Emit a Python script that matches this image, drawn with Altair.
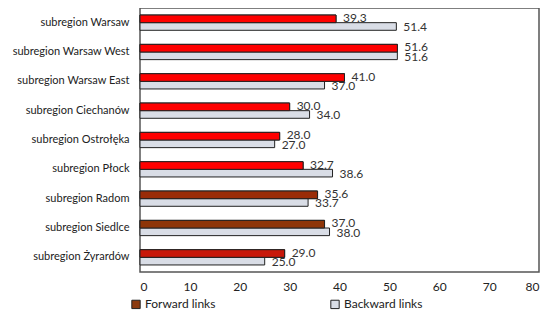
import altair as alt
import pandas as pd

categories = ["subregion Warsaw", "subregion Warsaw West", "subregion Warsaw East",
              "subregion Ciechanów", "subregion Ostrołęka", "subregion Płock",
              "subregion Radom", "subregion Siedlce", "subregion Żyrardów"]
forward = [39.3, 51.6, 41.0, 30.0, 28.0, 32.7, 35.6, 37.0, 29.0]
backward = [51.4, 51.6, 37.0, 34.0, 27.0, 38.6, 33.7, 38.0, 25.0]
forward_fill = ["#ff0000", "#ff0000", "#ff0000", "#ff0000", "#ff0000", "#ff0000",
                "#9a2c08", "#8e3508", "#c8180a"]
backward_fill = "#d9dde6"
series = ["Forward links", "Backward links"]

rows = []
for c, f, b, ff in zip(categories, forward, backward, forward_fill):
    rows.append({"cat": c, "series": series[0], "value": f, "fill": ff, "label": f"{f:.1f}"})
    rows.append({"cat": c, "series": series[1], "value": b, "fill": backward_fill, "label": f"{b:.1f}"})
df = pd.DataFrame(rows)

FONT = "Lato"
yenc = alt.Y("cat:N", sort=categories, title=None,
             scale=alt.Scale(paddingInner=0.48, paddingOuter=0.24),
             axis=alt.Axis(ticks=False, domain=False, labelPadding=11, labelFontSize=11,
                           labelFont=FONT, labelColor="#222", labelLimit=300))
yoff = alt.YOffset("series:N", sort=series, scale=alt.Scale(paddingInner=0, paddingOuter=0))
xenc = alt.X("value:Q", title=None,
             scale=alt.Scale(domain=[0, 80], nice=False),
             axis=alt.Axis(values=list(range(0, 81, 10)), ticks=False, domain=False, grid=False,
                           labelPadding=9, labelFontSize=12, labelFont=FONT, labelColor="#222"))

bars = alt.Chart(df).mark_bar(stroke="#222", strokeWidth=1).encode(
    x=xenc, y=yenc, yOffset=yoff,
    color=alt.Color("series:N", sort=series,
                    scale=alt.Scale(domain=series, range=["#8b3a0f", backward_fill]),
                    legend=alt.Legend(title=None, orient="none", legendX=-10, legendY=290,
                                      direction="horizontal", symbolType="square",
                                      symbolSize=70, symbolStrokeColor="#222", symbolStrokeWidth=1,
                                      symbolOpacity=1,
                                      labelFont=FONT, labelFontSize=12, labelColor="#222",
                                      columnPadding=112, symbolOffset=0, labelOffset=3)),
)

bars_f = alt.Chart(df).transform_filter(alt.datum.series == series[0]).mark_bar(
    stroke="#222", strokeWidth=1
).encode(x="value:Q", y=alt.Y("cat:N", sort=categories), yOffset=yoff,
         fill=alt.Fill("fill:N", scale=None))

txt_f = alt.Chart(df).transform_filter(alt.datum.series == series[0]).mark_text(
    align="left", baseline="middle", dx=7, dy=-1, font=FONT, fontSize=12, color="#333"
).encode(x="value:Q", y=alt.Y("cat:N", sort=categories), yOffset=yoff, text="label:N")
txt_b = alt.Chart(df).transform_filter(alt.datum.series == series[1]).mark_text(
    align="left", baseline="middle", dx=7, dy=1, font=FONT, fontSize=12, color="#333"
).encode(x="value:Q", y=alt.Y("cat:N", sort=categories), yOffset=yoff, text="label:N")

chart = alt.layer(bars, bars_f, txt_f, txt_b).properties(
    width=399, height=264,
    autosize=alt.AutoSizeParams(type="none"),
    padding={"left": 132, "top": 0, "right": 3, "bottom": 47},
).configure(background="white").configure_view(stroke="#555", strokeWidth=1.5)

chart.save("out.html", embed_options={"renderer": "svg", "actions": False})
